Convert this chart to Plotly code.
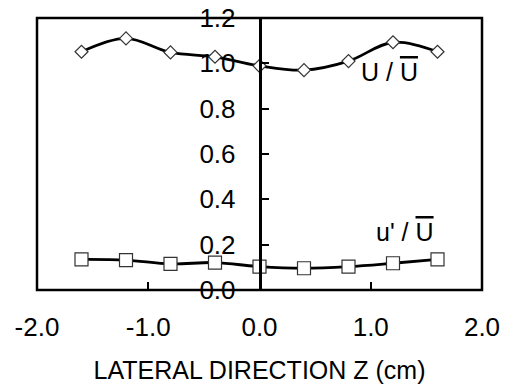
import plotly.graph_objects as go

z = [-1.6, -1.2, -0.8, -0.4, 0.0, 0.4, 0.8, 1.2, 1.6]
u_mean = [1.051, 1.110, 1.048, 1.029, 0.989, 0.970, 1.010, 1.093, 1.051]
u_rms = [0.135, 0.132, 0.115, 0.121, 0.103, 0.096, 0.103, 0.118, 0.135]
x_ticks = [-2.0, -1.0, 0.0, 1.0, 2.0]
x_tick_text = ["-2.0", "-1.0", "0.0", "1.0", "2.0"]
y_ticks = [0.0, 0.2, 0.4, 0.6, 0.8, 1.0, 1.2]
y_tick_text = ["0.0", "0.2", "0.4", "0.6", "0.8", "1.0", "1.2"]

FONT = "Liberation Sans, Arial, sans-serif"

fig = go.Figure()
fig.add_trace(go.Scatter(
    x=z, y=u_mean, mode="lines+markers",
    line=dict(color="black", width=2.8, shape="spline"),
    marker=dict(symbol="diamond", size=10, color="white",
                line=dict(color="#333333", width=1.2)),
    showlegend=False, cliponaxis=False))
fig.add_trace(go.Scatter(
    x=z, y=u_rms, mode="lines+markers",
    line=dict(color="black", width=2.8, shape="spline"),
    marker=dict(symbol="square", size=13, color="white",
                line=dict(color="#333333", width=1.2)),
    showlegend=False, cliponaxis=False))

fig.add_annotation(x=1.17, y=0.962, xref="x", yref="y", showarrow=False,
                   text='U / <span style="text-decoration:overline">U</span>',
                   font=dict(size=25, color="black", family=FONT))
fig.add_annotation(x=1.31, y=0.255, xref="x", yref="y", showarrow=False,
                   text="u' / <span style=\"text-decoration:overline\">U</span>",
                   font=dict(size=25, color="black", family=FONT))

fig.add_shape(type="rect", xref="paper", yref="paper", x0=0, x1=1, y0=0, y1=1,
              line=dict(color="black", width=2.5), layer="above")

fig.update_layout(
    width=512, height=390,
    margin=dict(l=37, r=30, t=18, b=100, autoexpand=False),
    paper_bgcolor="white", plot_bgcolor="white",
    font=dict(family=FONT, color="black"),
    xaxis=dict(range=[-2, 2], tickvals=x_ticks, ticktext=x_tick_text,
               ticks="inside", ticklen=8, tickwidth=2, tickcolor="black",
               showgrid=False, zeroline=False, showline=False, automargin=False,
               tickfont=dict(size=26), ticklabelstandoff=19,
               title=dict(text="LATERAL DIRECTION Z (cm)", font=dict(size=25), standoff=20)),
    yaxis=dict(range=[0, 1.2], tickvals=y_ticks, ticktext=y_tick_text,
               anchor="free", position=0.5, side="left", automargin=False,
               ticks="inside", ticklen=8, tickwidth=2, tickcolor="black",
               showline=True, linecolor="black", linewidth=2.5,
               showgrid=False, zeroline=False,
               tickfont=dict(size=26), ticklabelstandoff=18),
)

fig.write_html("out.html")
